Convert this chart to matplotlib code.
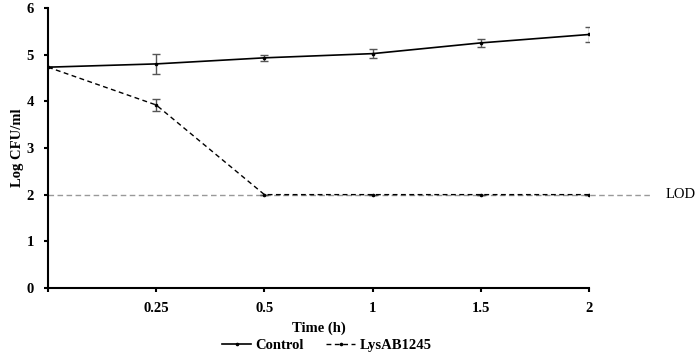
import matplotlib
matplotlib.use("Agg")
import matplotlib.pyplot as plt
from matplotlib.lines import Line2D
import numpy as np

# Datos
time_labels = ["", "0.25", "0.5", "1", "1.5", "2"]
control = [4.73, 4.80, 4.93, 5.02, 5.25, 5.43]
control_err = [0.0, 0.22, 0.07, 0.10, 0.09, 0.16]
lysab = [4.73, 3.92, 2.0, 2.0, 2.0, 2.0]
lysab_err = [0.0, 0.13, 0.0, 0.0, 0.0, 0.0]
lod = 2.0

plt.rcParams['font.family'] = ['Liberation Serif', 'DejaVu Serif']
plt.rcParams['font.weight'] = 'bold'

fig = plt.figure(figsize=(7, 3.58), dpi=100)
ax = fig.add_axes([0.0686, 0.1955, 0.7729, 0.7825])

x = np.arange(len(time_labels))
fs = 10.5

# Línea LOD
ax.plot([0, 5.57], [lod, lod], color='#999999', linestyle=(0, (4, 2.5)),
        linewidth=1, clip_on=False, zorder=1)
ax.text(5.85, lod, "LOD", ha='center', va='center', fontsize=fs,
        fontweight='normal')

ax.errorbar(x, control, yerr=control_err, color='black', linewidth=1.2,
            marker='o', markersize=1.6, ecolor='#555555', elinewidth=1,
            capsize=3, capthick=1, zorder=3)
ax.errorbar(x, lysab, yerr=lysab_err, color='black', linewidth=1.0,
            linestyle=(0, (3.5, 2.5)), marker='o', markersize=1.6,
            ecolor='#555555', elinewidth=1, capsize=3, capthick=1, zorder=3)

ax.set_xlim(0, 5)
ax.set_ylim(0, 6)
ax.set_xticks(x)
ax.set_xticklabels(time_labels, fontsize=fs, fontweight='bold')
ax.set_yticks(range(7))
ax.set_yticklabels([str(v) for v in range(7)], fontsize=fs, fontweight='bold')
ax.tick_params(axis='both', direction='out', length=3, width=1.5, pad=7)

for s in ['top', 'right']:
    ax.spines[s].set_visible(False)
for s in ['left', 'bottom']:
    ax.spines[s].set_linewidth(1.5)

ax.set_xlabel("Time (h)", fontsize=fs, fontweight='bold', labelpad=5)
ax.set_ylabel("Log CFU/ml", fontsize=fs, fontweight='bold')
ax.yaxis.set_label_coords(-0.045, 0.5)

handles = [
    Line2D([], [], color='black', linewidth=1.2, marker='o', markersize=1.6),
    Line2D([], [], color='black', linewidth=1.0, linestyle=(0, (3.5, 2.5)),
           marker='o', markersize=1.6),
]
fig.legend(handles, ['Control', 'LysAB1245'], loc='lower center',
           bbox_to_anchor=(0.467, -0.02), ncol=2, frameon=False,
           handlelength=2.0, columnspacing=1.5, handletextpad=0.3,
           prop={'weight': 'bold', 'size': fs})

fig.savefig("out.png", dpi=100)
